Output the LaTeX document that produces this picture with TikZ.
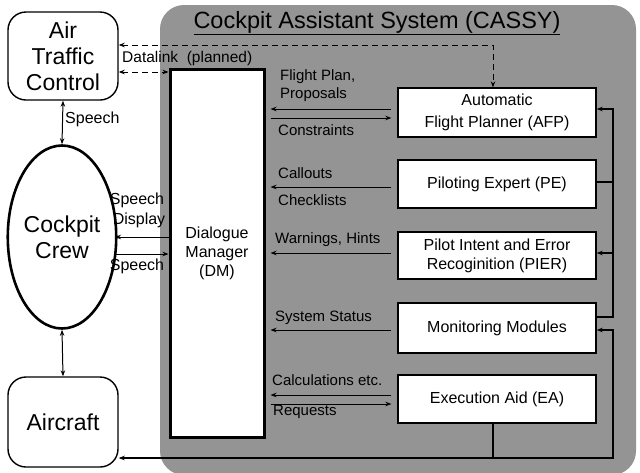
\documentclass[tikz,border=0pt]{standalone}
\usepackage{fontspec}
\setmainfont{Liberation Sans}
\usetikzlibrary{shapes.geometric,arrows.meta,calc}
\begin{document}
\begin{tikzpicture}[x=1pt,y=-1pt,
  big/.style={font=\fontsize{23}{26}\selectfont},
  mid/.style={font=\fontsize{16}{19}\selectfont},
  lab/.style={font=\fontsize{15}{18}\selectfont, anchor=west, inner sep=0pt, align=left},
  outerbox/.style={draw, line width=1.4pt, rounded corners=18pt, minimum width=110pt, align=center, inner sep=0pt, big},
  module/.style={draw, fill=white, line width=1.3pt, minimum width=198pt, align=center, inner sep=0pt, mid},
  tip/.style={-{Stealth[length=6pt,width=4.5pt]}},
  arr/.style={line width=1pt, tip},
  darr/.style={line width=1pt, {Stealth[length=6pt,width=4.5pt]}-{Stealth[length=6pt,width=4.5pt]}},
  dlink/.style={line width=1pt, dash pattern=on 6pt off 4pt, {Stealth[length=6pt,width=4.5pt]}-{Stealth[length=6pt,width=4.5pt]}},
  toDM/.style={arr, shorten >=5pt, shorten <=6pt},
  toMod/.style={arr, shorten >=6pt, shorten <=5pt},
  bus/.style={line width=1.6pt},
  cassyfill/.style={fill=black!42}
]
\useasboundingbox (0,0) rectangle (640,472);

% CASSY background
\node[cassyfill, rounded corners=24pt, minimum width=476pt, minimum height=470pt, inner sep=0pt] (cassy) at (398,240) {};
\node[font=\fontsize{23.5}{26}\selectfont, anchor=base, inner sep=0pt] (title) at (377,28) {\underline{Cockpit Assistant System (CASSY)}};

% Dialogue manager
\node[draw, fill=white, line width=3pt, minimum width=94pt, minimum height=368pt, align=center, inner sep=0pt, mid] (dm) at (217,253) {Dialogue\\Manager\\(DM)};

% Modules
\node[module, minimum height=49pt] (afp) at (497,112.5) {Automatic\\[3pt]Flight Planner (AFP)};
\node[module, minimum height=48pt] (pe) at (497,184) {Piloting Expert (PE)};
\node[module, minimum height=47pt] (pier) at (497,255.5) {Pilot Intent and Error\\Recoginition (PIER)};
\node[module, minimum height=50pt] (mm) at (497,328) {Monitoring Modules};
\node[module, minimum height=48pt] (ea) at (497,399) {Execution Aid (EA)};

% Left side
\node[outerbox, minimum height=88pt] (atc) at (63,56) {Air\\Traffic\\Control};
\node[draw, ellipse, line width=2.6pt, minimum width=86pt, minimum height=183pt, big, align=center, inner sep=0pt] (crew) at (62,237) {Cockpit\\Crew};
\node[outerbox, minimum height=90pt] (aircraft) at (63,422) {Aircraft};

% Datalink
\coordinate (dl) at (493,45);
\coordinate (dl2) at (0,72);
\draw[dlink] (atc.east |- dl) -- (dl) -- (afp.north -| dl);
\draw[dlink] (atc.east |- dl2) -- (dm.west |- dl2);
\node[lab, font=\fontsize{15.5}{18}\selectfont] (dltext) at (122,58) {Datalink\ \ (planned)};

% Speech ATC - crew - aircraft
\draw[darr] (atc.south) -- (crew.north);
\node[mid, anchor=west, inner sep=0pt] (sp1) at (65,119) {Speech};
\draw[darr] (crew.south) -- (aircraft.north);

% Crew - DM
\coordinate (cd1) at (115,237);
\coordinate (cd2) at (115,254);
\draw[arr] (dm.west |- cd1) -- (cd1);
\draw[arr] (cd2) -- (dm.west |- cd2);
\node[mid, inner sep=0pt] (sp2) at (137,200) {Speech};
\node[mid, inner sep=0pt] (disp) at (139,220) {Display};
\node[mid, inner sep=0pt] (sp3) at (137,266) {Speech};

% DM - modules
\coordinate (y1) at (0,109);
\coordinate (y2) at (0,118);
\coordinate (y3) at (0,187);
\coordinate (y4) at (0,253);
\coordinate (y5) at (0,330);
\coordinate (y6) at (0,395);
\coordinate (y7) at (0,404);
\draw[toDM] (afp.west |- y1) -- (dm.east |- y1);
\draw[toMod] (dm.east |- y2) -- (afp.west |- y2);
\draw[toDM] (pe.west |- y3) -- (dm.east |- y3);
\draw[toDM] (pier.west |- y4) -- (dm.east |- y4);
\draw[toDM] (mm.west |- y5) -- (dm.east |- y5);
\draw[toDM] (ea.west |- y6) -- (dm.east |- y6);
\draw[toMod] (dm.east |- y7) -- (ea.west |- y7);

\node[lab] (l1) at (280,86) {Flight Plan,\\Proposals};
\node[lab] (l2) at (278,130) {Constraints};
\node[lab] (l3) at (278,173) {Callouts};
\node[lab] (l4) at (278,200) {Checklists};
\node[lab] (l5) at (275,240) {Warnings, Hints};
\node[lab] (l6) at (275,318) {System Status};
\node[lab] (l7) at (272,380) {Calculations etc.};
\node[lab] (l8) at (273,412) {Requests};

% Right bus
\coordinate (b1) at (613,109);
\coordinate (b2) at (613,317);
\coordinate (bpe) at (613,182);
\coordinate (bpi) at (613,253);
\coordinate (b3) at (613,330);
\coordinate (b4) at (613,458);
\draw[bus, tip] (mm.east |- b2) -- (b2) -- (b1) -- (afp.east |- b1);
\draw[bus] (pe.east |- bpe) -- (bpe);
\draw[bus, tip] (bpi) -- (pier.east |- bpi);
\draw[bus, {Stealth[length=6pt,width=4.5pt]}-{Stealth[length=6pt,width=4.5pt]}] (mm.east |- b3) -- (b3) -- (b4) -- (aircraft.east |- b4);
\draw[bus] ($(ea.south)+(-4,0)$) -- ($(ea.south |- b4)+(-4,0)$);
\end{tikzpicture}
\end{document}
